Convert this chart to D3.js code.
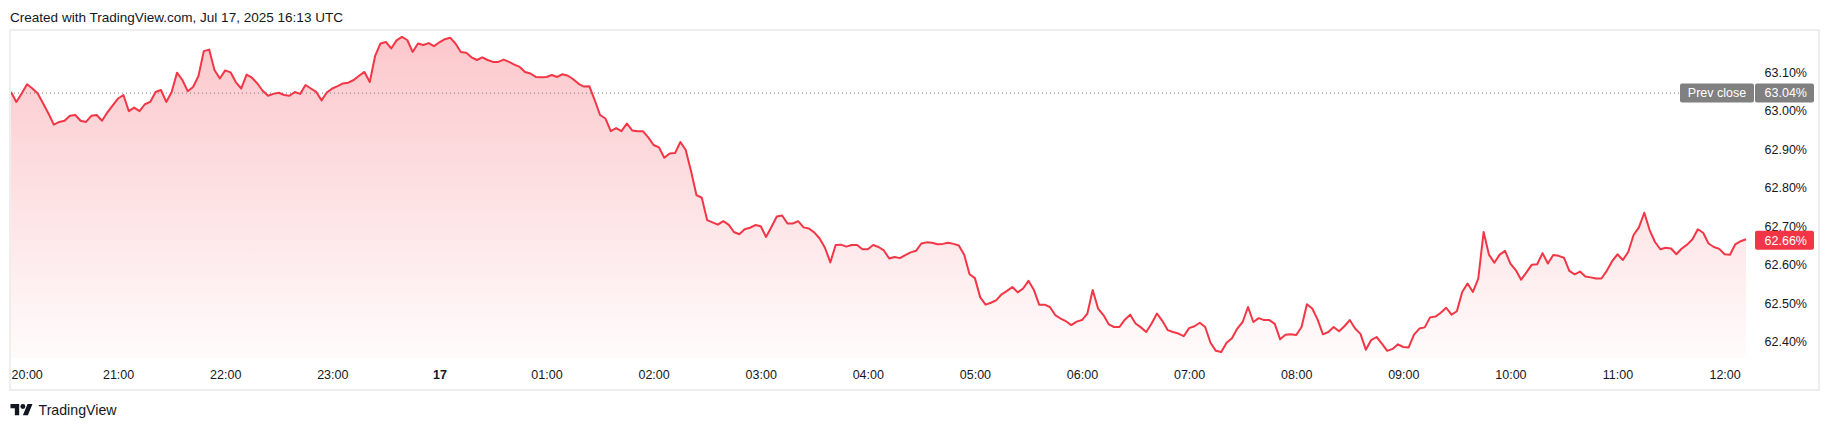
<!DOCTYPE html>
<html><head><meta charset="utf-8">
<script src="https://cdn.jsdelivr.net/npm/d3@7"></script>
<style>
html,body{margin:0;padding:0;background:#fff;}
svg{display:block;}
text{font-family:"Liberation Sans", Arial, sans-serif;}
</style></head><body>
<svg id="c" width="1831" height="430"></svg>
<script>
// ---------------- DATA ----------------
const headerText = "Created with TradingView.com, Jul 17, 2025 16:13 UTC";
const brandText = "TradingView";
const startTime = "2025-07-16T20:00:00Z";
const stepMinutes = 3;

// 20:00 – 00:06
const valuesEvening = [63.043,63.017,63.039,63.063,63.052,63.039,63.013,62.987,62.958,62.965,
62.968,62.981,62.983,62.968,62.965,62.981,62.983,62.968,62.990,63.008,
63.026,63.035,62.993,63.002,62.993,63.011,63.017,63.043,63.048,63.017,
63.043,63.093,63.074,63.045,63.056,63.084,63.149,63.153,63.100,63.078,
63.099,63.094,63.068,63.052,63.088,63.080,63.065,63.046,63.033,63.038,
63.041,63.035,63.033,63.043,63.038,63.061,63.052,63.043,63.021,63.042,
63.052,63.058,63.065,63.067,63.074,63.085,63.095,63.069,63.137,63.169,
63.173,63.156,63.177,63.186,63.178,63.147,63.169,63.165,63.170,63.162,
63.172,63.180,63.184];
// 00:09 – 04:12
const valuesNight = [63.169,63.147,63.145,63.133,63.126,63.133,63.126,63.121,63.121,63.127,
63.121,63.114,63.108,63.095,63.091,63.082,63.081,63.082,63.087,63.082,
63.089,63.085,63.076,63.064,63.057,63.058,63.022,62.983,62.974,62.941,
62.949,62.941,62.961,62.943,62.941,62.941,62.925,62.905,62.899,62.872,
62.883,62.884,62.913,62.892,62.837,62.775,62.768,62.710,62.704,62.698,
62.707,62.698,62.679,62.673,62.686,62.690,62.697,62.694,62.666,62.692,
62.719,62.722,62.701,62.701,62.707,62.691,62.688,62.678,62.662,62.638,
62.600,62.645,62.646,62.641,62.645,62.645,62.634,62.634,62.645,62.640,
62.631,62.610];
// 04:15 – 08:18
const valuesMorning = [62.614,62.611,62.619,62.626,62.630,62.649,62.652,62.651,62.647,62.648,
62.651,62.648,62.644,62.620,62.569,62.559,62.509,62.490,62.495,62.502,
62.517,62.526,62.536,62.522,62.532,62.552,62.529,62.490,62.490,62.484,
62.463,62.454,62.447,62.437,62.446,62.450,62.467,62.528,62.480,62.463,
62.439,62.432,62.432,62.451,62.464,62.441,62.431,62.419,62.441,62.467,
62.448,62.424,62.419,62.415,62.408,62.429,62.434,62.443,62.432,62.391,
62.370,62.367,62.391,62.403,62.428,62.445,62.484,62.445,62.455,62.450,
62.450,62.440,62.400,62.412,62.413,62.411,62.432,62.491,62.480,62.451,
62.413,62.419];
// 08:21 – 12:12
const valuesDay = [62.432,62.421,62.434,62.450,62.428,62.414,62.373,62.398,62.406,62.389,
62.370,62.375,62.387,62.380,62.379,62.412,62.428,62.431,62.457,62.459,
62.469,62.482,62.464,62.473,62.523,62.545,62.523,62.558,62.679,62.620,
62.599,62.620,62.630,62.597,62.580,62.555,62.574,62.594,62.595,62.624,
62.597,62.619,62.617,62.612,62.578,62.569,62.576,62.563,62.561,62.558,
62.558,62.578,62.603,62.621,62.606,62.627,62.671,62.691,62.729,62.684,
62.653,62.634,62.638,62.636,62.621,62.636,62.646,62.660,62.686,62.677,
62.649,62.640,62.635,62.621,62.620,62.647,62.655,62.660];

const priceTicks = [62.40,62.50,62.60,62.70,62.80,62.90,63.00,63.10];
const timeTicks = ["2025-07-16T20:00Z","2025-07-16T21:00Z","2025-07-16T22:00Z","2025-07-16T23:00Z",
"2025-07-17T00:00Z","2025-07-17T01:00Z","2025-07-17T02:00Z","2025-07-17T03:00Z","2025-07-17T04:00Z",
"2025-07-17T05:00Z","2025-07-17T06:00Z","2025-07-17T07:00Z","2025-07-17T08:00Z","2025-07-17T09:00Z",
"2025-07-17T10:00Z","2025-07-17T11:00Z","2025-07-17T12:00Z"];
const timeTickLabels = ["20:00","21:00","22:00","23:00","17","01:00","02:00","03:00","04:00",
"05:00","06:00","07:00","08:00","09:00","10:00","11:00","12:00"];
const prevClose = 63.04;
const prevCloseLabel = "Prev close";

// ---------------- CHART ----------------
const values = [].concat(valuesEvening, valuesNight, valuesMorning, valuesDay);
const t0 = new Date(startTime).getTime();
const data = values.map((v,i)=>({t:new Date(t0 + i*stepMinutes*60000), v}));
const lastPrice = values[values.length-1];

const svg = d3.select("#c");
const red = "#f23645";
const textCol = "#131722";
const pane = {left:10, right:1755, top:30, bottom:358};

const x = d3.scaleUtc()
  .domain([new Date(timeTicks[0]), new Date(timeTicks[timeTicks.length-1])])
  .range([11, 1724.6]);
const y = d3.scaleLinear().domain([62.354, 63.204]).range([357, 30]);

// header
svg.append("text").attr("x",10).attr("y",22).attr("fill",textCol)
  .attr("font-size",13.5).attr("textLength",333).attr("lengthAdjust","spacingAndGlyphs")
  .text(headerText);

// gradient
const defs = svg.append("defs");
const grad = defs.append("linearGradient").attr("id","g").attr("gradientUnits","userSpaceOnUse")
  .attr("x1",0).attr("x2",0).attr("y1",pane.top).attr("y2",pane.bottom);
grad.append("stop").attr("offset","0").attr("stop-color",red).attr("stop-opacity",0.28);
grad.append("stop").attr("offset","1").attr("stop-color",red).attr("stop-opacity",0.02);

const area = d3.area().x(d=>x(d.t)).y0(pane.bottom).y1(d=>y(d.v));
svg.append("path").datum(data).attr("d",area).attr("fill","url(#g)");

// prev close dotted line
svg.append("line").attr("x1",pane.left).attr("x2",1680)
  .attr("y1",y(prevClose)).attr("y2",y(prevClose))
  .attr("stroke","#787b86").attr("stroke-width",1).attr("stroke-dasharray","1,3");

const line = d3.line().x(d=>x(d.t)).y(d=>y(d.v));
svg.append("path").datum(data).attr("d",line).attr("fill","none")
  .attr("stroke",red).attr("stroke-width",2).attr("stroke-linejoin","round");

// price axis
const yAxis = d3.axisRight(y).tickValues(priceTicks).tickFormat(d=>d.toFixed(2)+"%").tickSize(0);
const ya = svg.append("g").attr("transform","translate(1807,0)").call(yAxis);
ya.select(".domain").remove();
ya.selectAll("text").attr("x",0).attr("dy","0.32em").attr("y",2.5)
  .attr("text-anchor","end").attr("fill",textCol).attr("font-size",12.5)
  .attr("font-family","'Liberation Sans', Arial, sans-serif");

// prev close label
const pcY = y(prevClose);
svg.append("rect").attr("x",1680).attr("y",pcY-9.5).attr("width",74).attr("height",19).attr("rx",2).attr("fill","#808080");
svg.append("rect").attr("x",1755).attr("y",pcY-9.5).attr("width",59).attr("height",19).attr("rx",2).attr("fill","#808080");
svg.append("text").attr("x",1717).attr("y",pcY).attr("dy","0.35em").attr("text-anchor","middle")
  .attr("fill","#fff").attr("font-size",12.5).text(prevCloseLabel);
svg.append("text").attr("x",1807).attr("y",pcY).attr("dy","0.35em").attr("text-anchor","end")
  .attr("fill","#fff").attr("font-size",12.5).text(prevClose.toFixed(2)+"%");

// last price label
const lpY = y(lastPrice)+1;
svg.append("rect").attr("x",1755).attr("y",lpY-9.5).attr("width",59).attr("height",19).attr("rx",2).attr("fill",red);
svg.append("text").attr("x",1807).attr("y",lpY).attr("dy","0.35em").attr("text-anchor","end")
  .attr("fill","#fff").attr("font-size",12.5).text(lastPrice.toFixed(2)+"%");

// time axis
const tickDates = timeTicks.map(s=>new Date(s));
const xAxis = d3.axisBottom(x).tickValues(tickDates).tickFormat((d,i)=>timeTickLabels[i]).tickSize(0);
const xa = svg.append("g").attr("transform","translate(0,375)").call(xAxis);
xa.select(".domain").remove();
xa.selectAll("text").attr("y",0).attr("dy","0.35em").attr("fill",textCol).attr("font-size",12.5)
  .attr("font-family","'Liberation Sans', Arial, sans-serif")
  .attr("font-weight",(d,i)=>timeTickLabels[i]==="17"?"bold":"normal")
  .attr("text-anchor",(d,i)=>i===0?"start":"middle");
xa.selectAll(".tick").filter((d,i)=>i===0).select("text").attr("x",11-x(tickDates[0]));

// frame
svg.append("rect").attr("x",10).attr("y",30).attr("width",1809).attr("height",360)
  .attr("fill","none").attr("stroke","#eeeeee").attr("stroke-width",2);

// footer logo + brand
const logo = svg.append("g").attr("transform","translate(10.5,401.5) scale(0.62)").attr("fill",textCol);
logo.append("path").attr("d","M14 22H7V11H0V4h14v18zM28 22h-8l7.5-18h8L28 22z");
logo.append("circle").attr("cx",20).attr("cy",8).attr("r",4);
svg.append("text").attr("x",38.5).attr("y",415).attr("fill",textCol).attr("font-size",14.5)
  .attr("textLength",78).attr("lengthAdjust","spacingAndGlyphs").text(brandText);
</script>
</body></html>
